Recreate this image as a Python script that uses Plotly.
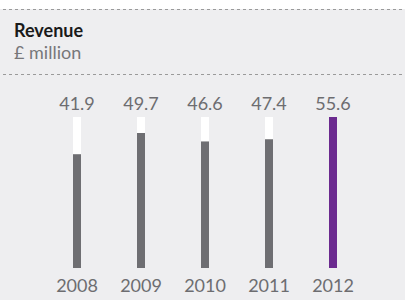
import plotly.graph_objects as go

years = ["2008", "2009", "2010", "2011", "2012"]
revenue = [41.9, 49.7, 46.6, 47.4, 55.6]
value_labels = ["41.9", "49.7", "46.6", "47.4", "55.6"]
bar_colors = ["#6e6e72", "#6e6e72", "#6e6e72", "#6e6e72", "#6b2a8f"]

W, H = 405, 300
ymax = max(revenue)
bg = "#eeeef0"
font = "Lato, Calibri, Carlito, 'Open Sans', sans-serif"

fig = go.Figure()
fig.add_trace(go.Bar(x=years, y=[ymax] * len(years), marker_color="white",
                     marker_line_width=0, width=0.125, hoverinfo="skip",
                     text=value_labels, textposition="outside", cliponaxis=False,
                     constraintext="none",
                     outsidetextfont=dict(family=font, size=18, color="#6d6d70"),
                     showlegend=False))
fig.add_trace(go.Bar(x=years, y=revenue, marker_color=bar_colors,
                     marker_line_width=0, width=0.125, showlegend=False))

fig.add_shape(type="rect", xref="paper", yref="paper", x0=0, x1=1,
              y0=0, y1=(H - 9) / H, fillcolor=bg, line_width=0, layer="below")
for yy in (9.5, 74.5):
    fig.add_shape(type="line", xref="paper", yref="paper", x0=3 / W, x1=403 / W,
                  y0=(H - yy) / H, y1=(H - yy) / H,
                  line=dict(color="#9a9a9a", width=1, dash="dot"))

fig.add_annotation(x=12 / W, y=(H - 30) / H, xref="paper", yref="paper",
                   text="<b>Revenue</b>", showarrow=False, xanchor="left",
                   yanchor="middle", font=dict(family=font, size=18, color="#1a1a1a"))
fig.add_annotation(x=12 / W, y=(H - 52) / H, xref="paper", yref="paper",
                   text="£ million", showarrow=False, xanchor="left",
                   yanchor="middle", font=dict(family=font, size=18, color="#77777a"))

fig.update_layout(
    width=W, height=H, margin=dict(l=0, r=0, t=0, b=0),
    paper_bgcolor="white", plot_bgcolor="rgba(0,0,0,0)",
    barmode="overlay",
    xaxis=dict(domain=[45 / W, 365 / W], range=[-0.5, 4.5], type="category",
               showgrid=False, zeroline=False, showline=False, ticks="",
               tickfont=dict(family=font, size=18, color="#6d6d70"),
               ticklabelstandoff=5),
    yaxis=dict(domain=[(H - 268) / H, (H - 117) / H], range=[0, ymax],
               showgrid=False, zeroline=False, showline=False,
               showticklabels=False, ticks=""),
)

fig.write_html("out.html", config={"displayModeBar": False},
               post_script="document.body.style.margin='0';")
